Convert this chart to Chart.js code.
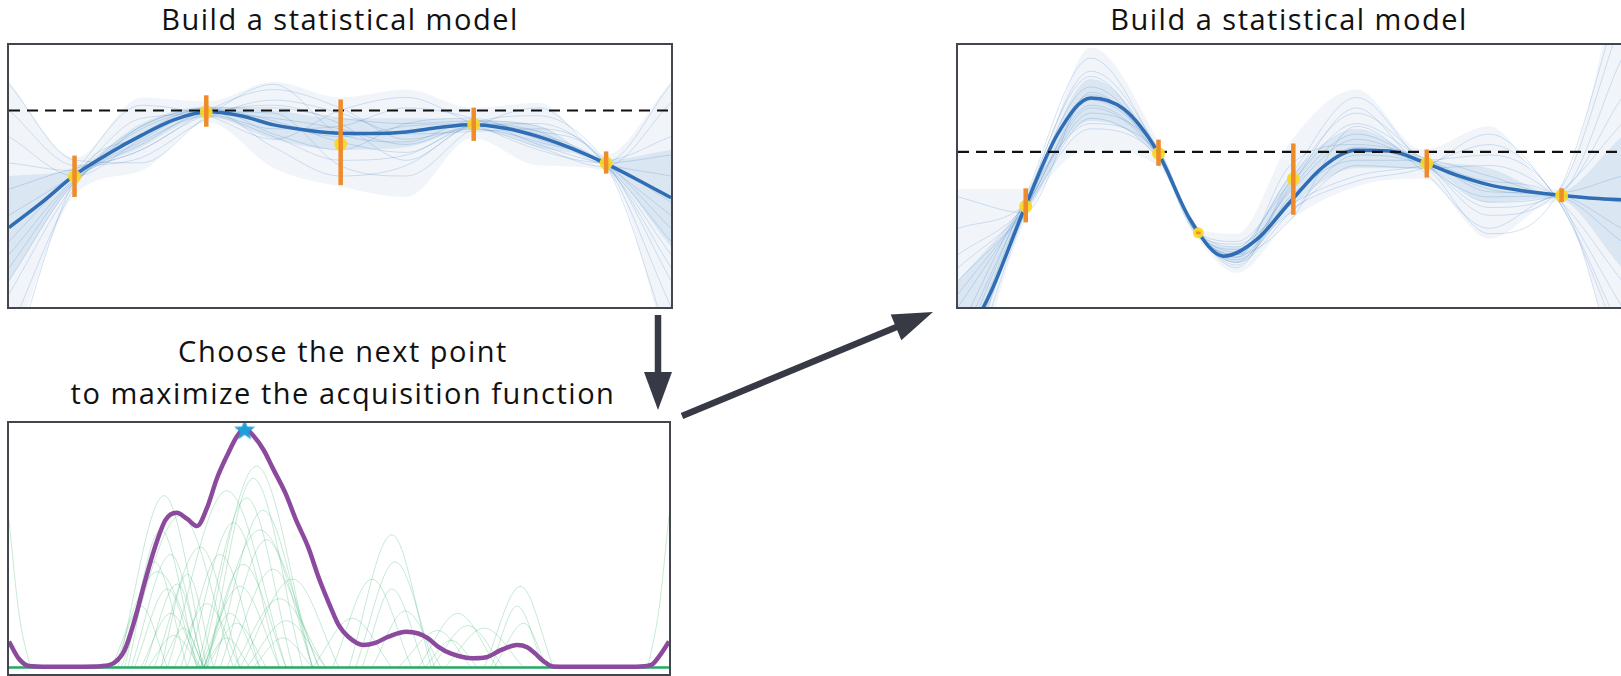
<!DOCTYPE html>
<html>
<head>
<meta charset="utf-8">
<script src="https://cdn.jsdelivr.net/npm/chart.js@4.4.0/dist/chart.umd.min.js"></script>
<style>
  html, body { margin: 0; padding: 0; background: #fff; }
  body { width: 1621px; height: 676px; position: relative; overflow: hidden; font-family: 'Open Sans', Lato, sans-serif; }
  .title { position: absolute; text-align: center; font-size: 29px; line-height: 42px; letter-spacing: 1.5px; color: #111; white-space: nowrap; }
  .panel { position: absolute; border: 2px solid #44464e; }
  .panel canvas { display: block; }
  svg { position: absolute; left: 0; top: 0; }
</style>
</head>
<body>
<div class="title" style="left:8px; top:-2px; width:664px;">Build a statistical model</div>
<div class="title" style="left:957px; top:-2px; width:664px;">Build a statistical model</div>
<div class="title" style="left:11px; top:330px; width:664px;">Choose the next point<br>to maximize the acquisition function</div>

<div class="panel" style="left:7px; top:43px;"><canvas id="fitChart" width="662" height="262"></canvas></div>
<div class="panel" style="left:7px; top:421px;"><canvas id="acqChart" width="660" height="251"></canvas></div>
<div class="panel" style="left:956px; top:43px;"><canvas id="refitChart" width="664" height="262"></canvas></div>

<svg width="1621" height="676">
  <g fill="#373944" stroke="#373944">
    <line x1="658" y1="315" x2="658" y2="376" stroke-width="6.5"/>
    <polygon points="644,372 672,372 658,410" stroke="none"/>
    <line x1="682" y1="416" x2="899" y2="326" stroke-width="6.5"/>
    <polygon points="933,312 890.7,314.4 901.3,340.2" stroke="none"/>
  </g>
</svg>

<script>
// ---- top-left: model fitted on 5 observations ----
const fitNodes = [0, 1, 2, 3, 4, 5, 6, 7, 8, 9, 10];
const fitMeanX = [0, 0.5, 1, 1.5, 2, 2.5, 3, 3.5, 4, 4.5, 5, 5.5, 6, 6.5, 7, 7.5, 8, 8.5, 9, 9.5, 10];
const fitMean = [3.03, 4.0, 5.05, 5.85, 6.55, 7.15, 7.45, 7.3, 6.95, 6.75, 6.63, 6.62, 6.68, 6.85, 6.97, 6.82, 6.5, 6.05, 5.49, 4.85, 4.17];
const fitObsX = [0.99, 2.98, 5.01, 7.02, 9.02];
const fitObsY = [4.99, 7.45, 6.22, 6.97, 5.49];
const fitObsLo = [4.20, 6.88, 4.65, 6.34, 5.09];
const fitObsHi = [5.78, 8.08, 7.92, 7.61, 5.94];
const fitBest = 7.5;
const fitOuterHi = [8.6, 5.7, 8.0, 7.85, 8.6, 8.0, 8.3, 7.6, 7.8, 5.8, 8.6];
const fitOuterLo = [-2, 4.3, 5.2, 7.05, 5.3, 4.6, 4.2, 6.45, 5.4, 5.2, -2];
const fitInnerHi = [5.0, 5.3, 7.0, 7.65, 7.5, 7.2, 7.2, 7.15, 6.9, 5.6, 6.0];
const fitInnerLo = [1.0, 4.75, 6.1, 7.25, 6.4, 6.0, 6.1, 6.8, 6.1, 5.38, 2.3];
const fitSamples = [
  [1.0, 4.8, 6.3, 7.3, 6.5, 5.6, 5.8, 6.8, 6.3, 5.4, 2.5],
  [5.5, 5.2, 6.9, 7.6, 7.6, 7.2, 7.0, 7.1, 6.9, 5.6, 6.5],
  [2.0, 4.9, 6.2, 7.4, 7.2, 6.8, 6.2, 6.9, 6.6, 5.5, 3.0],
  [7.5, 5.4, 6.0, 7.5, 8.3, 7.6, 6.4, 6.8, 6.1, 5.35, 7.8],
  [-1.0, 4.6, 6.9, 7.5, 6.1, 5.0, 5.4, 7.0, 7.3, 5.6, 1.0],
  [3.5, 5.1, 7.2, 7.35, 6.8, 6.9, 7.6, 7.2, 6.2, 5.45, 5.0],
  [4.5, 5.3, 5.7, 7.2, 7.9, 7.4, 6.6, 6.7, 6.8, 5.5, 0.0],
  [0.5, 4.7, 6.6, 7.6, 6.6, 6.0, 7.0, 7.2, 6.4, 5.55, 4.0],
  [6.5, 5.0, 6.4, 7.55, 7.1, 6.3, 5.9, 6.9, 6.7, 5.45, -1.5],
  [2.5, 5.2, 7.7, 7.3, 6.4, 7.5, 8.0, 7.0, 6.0, 5.5, 8.5],
  [-2.5, 4.9, 6.5, 7.45, 7.4, 5.4, 5.0, 6.8, 7.6, 5.5, 3.5],
  [8.5, 5.6, 5.5, 7.3, 8.5, 6.6, 6.3, 7.1, 6.5, 5.4, 2.0],
  [3.0, 5.0, 6.8, 7.5, 7.0, 6.5, 6.9, 7.0, 6.7, 5.5, 5.8],
  [1.5, 4.85, 6.0, 7.35, 7.7, 7.0, 5.6, 6.9, 7.0, 5.5, 1.5]
];

// ---- right: model refitted after the new point ----
const refitNodes = [0, 1, 2, 3, 3.6, 4.2, 5, 6, 7, 8, 9, 10];
const refitMeanX = fitMeanX;
const refitMean = [-1.8, 0.6, 3.75, 6.6, 7.98, 7.55, 5.95, 3.33, 1.94, 2.58, 4.0, 5.35, 5.98, 5.95, 5.54, 5.04, 4.66, 4.44, 4.28, 4.16, 4.09];
const refitObsX = [1.02, 3.02, 3.62, 5.05, 7.06, 9.09];
const refitObsY = [3.84, 5.86, 2.83, 4.89, 5.48, 4.25];
const refitObsLo = [3.23, 5.39, 2.78, 3.52, 4.94, 4.0];
const refitObsHi = [4.53, 6.39, 2.88, 6.24, 6.01, 4.53];
const refitBest = 5.92;
const refitOuterHi = [4.5, 4.5, 9.9, 6.4, 3.0, 2.8, 6.3, 8.3, 6.0, 6.9, 4.5, 13];
const refitOuterLo = [-5, 3.2, 6.0, 5.4, 2.65, 1.3, 3.3, 4.6, 4.9, 2.6, 4.0, -3];
const refitInnerHi = [1.0, 4.0, 8.7, 6.1, 2.9, 2.3, 5.0, 6.8, 5.65, 5.3, 4.35, 6.5];
const refitInnerLo = [-3.5, 3.5, 7.1, 5.75, 2.75, 1.7, 3.8, 5.3, 5.3, 4.0, 4.15, 1.5];
const refitSamples = [
  [-3.0, 3.8, 8.4, 5.9, 2.85, 1.7, 4.5, 6.6, 5.5, 4.0, 4.25, 8.0],
  [1.0, 3.6, 7.2, 5.7, 2.8, 2.2, 3.6, 5.4, 5.3, 5.4, 4.2, 1.0],
  [-1.5, 4.0, 9.0, 6.1, 2.9, 1.5, 4.8, 7.4, 5.6, 3.5, 4.3, 11.0],
  [3.0, 3.9, 7.6, 5.8, 2.75, 2.4, 3.9, 5.0, 5.4, 6.2, 4.2, -1.0],
  [-4.0, 3.5, 8.1, 6.0, 2.9, 1.9, 5.4, 6.2, 5.7, 4.4, 4.35, 5.0],
  [0.0, 3.7, 6.8, 5.75, 2.8, 2.0, 3.3, 6.9, 5.2, 3.0, 4.2, 2.5],
  [-2.0, 4.1, 9.5, 6.0, 2.85, 1.6, 4.2, 5.6, 5.6, 5.0, 4.3, 9.5],
  [2.0, 3.8, 7.9, 5.95, 2.95, 2.3, 5.0, 8.0, 5.5, 4.2, 4.25, 3.0],
  [-3.5, 3.9, 8.8, 5.85, 2.8, 1.8, 3.7, 4.8, 5.3, 6.6, 4.2, 0.0],
  [1.5, 3.7, 7.4, 6.05, 2.9, 2.1, 4.4, 6.4, 5.45, 3.8, 4.3, 7.0],
  [4.2, 3.6, 8.2, 5.8, 2.85, 2.5, 4.7, 7.0, 5.7, 4.8, 4.25, -3.0],
  [-1.0, 4.0, 7.0, 5.9, 2.8, 1.7, 3.6, 5.8, 5.4, 2.8, 4.2, 12.0],
  [-2.5, 3.85, 8.0, 5.95, 2.85, 1.9, 4.1, 6.1, 5.5, 4.5, 4.28, 4.0],
  [0.5, 3.75, 7.7, 5.85, 2.8, 2.0, 4.6, 7.6, 5.6, 5.8, 4.22, -1.5]
];

// ---- bottom-left: acquisition function ----
const acqX = [0, 0.15, 0.3, 0.6, 1.0, 1.4, 1.6, 1.75, 1.9, 2.05, 2.2, 2.37, 2.54, 2.7, 2.85, 3.0, 3.15, 3.32, 3.45, 3.57, 3.7, 3.86, 4.0, 4.19, 4.35, 4.53, 4.7, 4.87, 5.0, 5.14, 5.37, 5.55, 5.75, 6.02, 6.2, 6.35, 6.5, 6.69, 7.03, 7.23, 7.45, 7.7, 7.85, 7.97, 8.1, 8.24, 8.5, 9.5, 9.73, 9.85, 10];
const acqY = [1.05, 0.35, 0.06, 0.03, 0.03, 0.05, 0.2, 0.7, 1.9, 3.4, 4.8, 6.0, 6.3, 6.05, 5.76, 6.5, 7.7, 8.72, 9.4, 9.74, 9.45, 8.85, 8.1, 7.09, 6.0, 4.92, 3.6, 2.47, 1.7, 1.25, 0.91, 1.0, 1.25, 1.45, 1.38, 1.18, 0.85, 0.57, 0.37, 0.41, 0.7, 0.91, 0.82, 0.57, 0.25, 0.04, 0.03, 0.03, 0.1, 0.45, 1.05];
const acqNext = { x: 3.57, y: 9.66 };
// sampled acquisition curves: [x, y] knots of each hump
const acqSamples = [
  [[1.65, 0], [2.35, 7.0], [3.0, 0]],
  [[1.75, 0], [2.3, 5.6], [2.85, 0]],
  [[1.8, 0], [2.2, 4.3], [2.7, 0]],
  [[1.9, 0], [2.4, 3.2], [2.85, 0]],
  [[2.0, 0], [2.45, 2.2], [2.9, 0]],
  [[2.1, 0], [2.5, 1.3], [2.9, 0]],
  [[1.7, 0], [2.6, 6.2], [3.4, 0]],
  [[2.2, 0], [2.9, 4.9], [3.5, 0]],
  [[2.9, 0], [3.75, 8.2], [4.6, 0]],
  [[3.0, 0], [3.7, 7.7], [4.45, 0]],
  [[2.85, 0], [3.6, 6.9], [4.3, 0]],
  [[3.1, 0], [3.85, 6.4], [4.6, 0]],
  [[2.7, 0], [3.4, 5.9], [4.1, 0]],
  [[3.2, 0], [3.9, 5.2], [4.6, 0]],
  [[2.6, 0], [3.2, 4.6], [3.8, 0]],
  [[3.3, 0], [4.0, 4.0], [4.7, 0]],
  [[2.9, 0], [3.5, 3.3], [4.1, 0]],
  [[3.4, 0], [4.1, 2.8], [4.8, 0]],
  [[2.5, 0], [3.0, 2.6], [3.5, 0]],
  [[3.0, 0], [3.45, 1.8], [3.9, 0]],
  [[3.6, 0], [4.2, 1.9], [4.8, 0]],
  [[2.4, 0], [3.3, 7.2], [4.2, 0]],
  [[3.5, 0], [4.3, 3.6], [5.0, 0]],
  [[1.6, 0], [2.0, 2.5], [2.4, 0]],
  [[2.3, 0], [2.7, 3.8], [3.1, 0]],
  [[1.55, 0], [2.25, 3.9], [2.95, 0]],
  [[1.85, 0], [2.45, 4.6], [2.95, 0]],
  [[2.05, 0], [2.55, 3.4], [2.95, 0]],
  [[2.3, 0], [2.65, 1.6], [2.95, 0]],
  [[2.95, 0], [3.35, 2.2], [3.8, 0]],
  [[2.95, 0], [3.55, 4.2], [4.2, 0]],
  [[2.95, 0], [3.8, 5.6], [4.7, 0]],
  [[2.95, 0], [3.3, 1.2], [3.65, 0]],
  [[3.7, 0], [4.15, 1.2], [4.6, 0]],
  [[5.15, 0], [5.8, 5.4], [6.4, 0]],
  [[5.25, 0], [5.85, 4.3], [6.45, 0]],
  [[5.35, 0], [5.8, 3.2], [6.3, 0]],
  [[5.5, 0], [6.0, 2.3], [6.55, 0]],
  [[4.6, 0], [5.2, 2.0], [5.8, 0]],
  [[4.9, 0], [5.5, 3.6], [6.1, 0]],
  [[6.2, 0], [6.8, 2.2], [7.4, 0]],
  [[6.4, 0], [6.95, 1.7], [7.5, 0]],
  [[6.6, 0], [7.2, 1.6], [7.8, 0]],
  [[6.3, 0], [6.7, 1.1], [7.1, 0]],
  [[7.2, 0], [7.75, 3.3], [8.25, 0]],
  [[7.3, 0], [7.7, 2.5], [8.1, 0]],
  [[7.35, 0], [7.8, 1.8], [8.15, 0]],
  [[5.9, 0], [6.5, 1.5], [7.0, 0]],
  [[0, 6.0], [0.15, 2.2], [0.32, 0]],
  [[9.68, 0], [9.85, 2.4], [10, 6.2]]
];

Chart.defaults.font.family = "'Open Sans', sans-serif";

function pts(xs, ys) {
  return xs.map((x, i) => ({ x: x, y: ys[i] }));
}

function baseOptions(yMin, yMax) {
  return {
    responsive: false,
    animation: false,
    devicePixelRatio: 1,
    events: [],
    layout: { padding: 0, autoPadding: false },
    elements: {
      line: { cubicInterpolationMode: 'monotone', capBezierPoints: false, fill: false },
      point: { radius: 0, hoverRadius: 0 }
    },
    plugins: { legend: { display: false }, tooltip: { enabled: false }, title: { display: false } },
    scales: {
      x: { type: 'linear', min: 0, max: 10, display: false },
      y: { type: 'linear', min: yMin, max: yMax, display: false }
    }
  };
}

function gpChart(id, m) {
  const datasets = [];
  const band = (lo, hi, color) => {
    datasets.push({ data: pts(m.nodes, lo), borderWidth: 0, borderColor: 'rgba(0,0,0,0)', order: 100 });
    datasets.push({ data: pts(m.nodes, hi), borderWidth: 0, borderColor: 'rgba(0,0,0,0)', fill: '-1', backgroundColor: color, order: 100 });
  };
  band(m.outerLo, m.outerHi, 'rgba(52,113,184,0.07)');
  band(m.innerLo, m.innerHi, 'rgba(52,113,184,0.12)');

  m.samples.forEach(s => {
    datasets.push({ data: pts(m.nodes, s), borderColor: 'rgba(52,113,184,0.2)', borderWidth: 1, order: 50 });
  });

  datasets.push({ data: pts(m.meanX, m.mean), borderColor: '#2f6db4', borderWidth: 3.5, order: 20 });

  datasets.push({
    data: [{ x: 0, y: m.best }, { x: 10, y: m.best }],
    borderColor: '#111', borderWidth: 2.2, borderDash: [11, 7], cubicInterpolationMode: 'default', tension: 0, order: 15
  });

  datasets.push({
    data: pts(m.obsX, m.obsY), showLine: false,
    pointRadius: m.obsR, pointBackgroundColor: 'rgba(250,216,40,0.95)', pointBorderWidth: 0, order: 10
  });

  m.obsX.forEach((x, i) => {
    datasets.push({
      data: [{ x: x, y: m.obsLo[i] }, { x: x, y: m.obsHi[i] }],
      borderColor: '#ee8b2b', borderWidth: 4.5, borderCapStyle: 'butt', tension: 0, order: 5
    });
  });

  return new Chart(document.getElementById(id), {
    type: 'line',
    data: { datasets: datasets },
    options: baseOptions(0, 10)
  });
}

gpChart('fitChart', {
  nodes: fitNodes, meanX: fitMeanX, mean: fitMean, best: fitBest,
  obsX: fitObsX, obsY: fitObsY, obsLo: fitObsLo, obsHi: fitObsHi, obsR: 6.5,
  samples: fitSamples, outerHi: fitOuterHi, outerLo: fitOuterLo, innerHi: fitInnerHi, innerLo: fitInnerLo
});

gpChart('refitChart', {
  nodes: refitNodes, meanX: refitMeanX, mean: refitMean, best: refitBest,
  obsX: refitObsX, obsY: refitObsY, obsLo: refitObsLo, obsHi: refitObsHi, obsR: [6.5, 6.5, 5.5, 6.5, 6.5, 6.5],
  samples: refitSamples, outerHi: refitOuterHi, outerLo: refitOuterLo, innerHi: refitInnerHi, innerLo: refitInnerLo
});

// five-pointed star marker for the chosen point
const starImg = document.createElement('canvas');
starImg.width = 24;
starImg.height = 24;
const sc = starImg.getContext('2d');
sc.beginPath();
for (let i = 0; i < 10; i++) {
  const r = i % 2 ? 4.6 : 11;
  const a = -Math.PI / 2 + i * Math.PI / 5;
  sc.lineTo(12 + r * Math.cos(a), 12 + r * Math.sin(a));
}
sc.closePath();
sc.fillStyle = '#1f9fd8';
sc.fill();

const acqDatasets = acqSamples.map(s => ({
  data: s.map(p => ({ x: p[0], y: p[1] })),
  borderColor: 'rgba(40,170,100,0.26)', borderWidth: 1, order: 50
}));
acqDatasets.push({
  data: [{ x: 0, y: 0 }, { x: 10, y: 0 }],
  borderColor: '#24a865', borderWidth: 2.5, tension: 0, cubicInterpolationMode: 'default', order: 30
});
acqDatasets.push({ data: pts(acqX, acqY), borderColor: '#8c4a9e', borderWidth: 4.5, order: 20 });
acqDatasets.push({
  data: [acqNext], showLine: false, pointStyle: starImg, pointRadius: 11, clip: false, order: 10
});

new Chart(document.getElementById('acqChart'), {
  type: 'line',
  data: { datasets: acqDatasets },
  options: baseOptions(-0.27, 9.96)
});
</script>
</body>
</html>
